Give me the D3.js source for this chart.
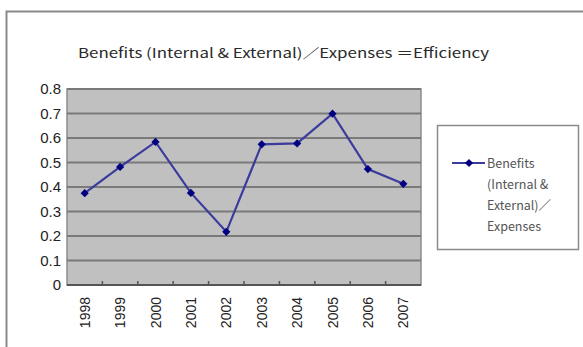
<!DOCTYPE html>
<html>
<head>
<meta charset="utf-8">
<script src="https://cdn.jsdelivr.net/npm/d3@7"></script>
<style>
  html, body { margin: 0; padding: 0; background: #ffffff; }
  svg { display: block; }
</style>
</head>
<body>
<svg id="chart" width="583" height="347"></svg>
<script>
// Efficiency ratio per year
const years = ["1998", "1999", "2000", "2001", "2002", "2003", "2004", "2005", "2006", "2007"];
const efficiency = [0.375, 0.482, 0.584, 0.376, 0.217, 0.574, 0.578, 0.699, 0.473, 0.413];
const yTicks = [0, 0.1, 0.2, 0.3, 0.4, 0.5, 0.6, 0.7, 0.8];
const titleText = "Benefits (Internal & External)／Expenses ＝Efficiency";
const legendLines = ["Benefits", "(Internal &", "External)／", "Expenses"];

const svg = d3.select("#chart");
const W = 583, H = 347;
const plot = { left: 67, right: 421, top: 89, bottom: 285 };
const fontUI = "'Noto Sans CJK JP', 'Liberation Sans', Arial, sans-serif";
const fontNum = "'Liberation Sans', Arial, sans-serif";

// Chart area frame (open on right and bottom)
svg.append("path")
  .attr("d", `M6.5,${H} L6.5,11.5 L${W},11.5`)
  .attr("fill", "none")
  .attr("stroke", "#8a8a8a")
  .attr("stroke-width", 2);

// Title
svg.append("text")
  .attr("x", 78)
  .attr("y", 58)
  .attr("font-family", fontUI)
  .attr("font-size", 13.5)
  .attr("fill", "#2a2a2a")
  .attr("textLength", 411)
  .attr("lengthAdjust", "spacingAndGlyphs")
  .text(titleText);

const x = d3.scaleBand().domain(years).range([plot.left, plot.right]).padding(0);
const y = d3.scaleLinear().domain([0, 0.8]).range([plot.bottom, plot.top]);

// Plot background
svg.append("rect")
  .attr("x", plot.left).attr("y", plot.top)
  .attr("width", plot.right - plot.left)
  .attr("height", plot.bottom - plot.top)
  .attr("fill", "#c0c0c0")
  .attr("stroke", "#8c8c8c")
  .attr("stroke-width", 1.5);

// Horizontal gridlines
svg.append("g")
  .selectAll("line")
  .data(yTicks.filter(t => t > 0))
  .join("line")
  .attr("x1", plot.left).attr("x2", plot.right)
  .attr("y1", d => y(d)).attr("y2", d => y(d))
  .attr("stroke", "#7a7a7a")
  .attr("stroke-width", 2);

// Y axis labels
const yAxis = d3.axisLeft(y).tickValues(yTicks).tickFormat(d => d === 0 ? "0" : d3.format(".1f")(d)).tickSize(0).tickPadding(6);
const gy = svg.append("g").attr("transform", `translate(${plot.left},0)`).call(yAxis);
gy.select(".domain").remove();
gy.selectAll("text")
  .attr("font-family", fontNum)
  .attr("font-size", 15)
  .attr("fill", "#222");

// X axis: baseline, inner ticks at category boundaries, rotated labels
svg.append("line")
  .attr("x1", plot.left).attr("x2", plot.right)
  .attr("y1", plot.bottom).attr("y2", plot.bottom)
  .attr("stroke", "#555").attr("stroke-width", 2);

svg.append("g")
  .selectAll("line")
  .data(years.slice(1))
  .join("line")
  .attr("x1", d => x(d)).attr("x2", d => x(d))
  .attr("y1", plot.bottom).attr("y2", plot.bottom - 4)
  .attr("stroke", "#555").attr("stroke-width", 1.5);

svg.append("g")
  .selectAll("text")
  .data(years)
  .join("text")
  .attr("transform", d => `translate(${x(d) + x.bandwidth() / 2 + 5},297) rotate(-90)`)
  .attr("text-anchor", "end")
  .attr("font-family", fontNum)
  .attr("font-size", 14)
  .attr("fill", "#222")
  .text(d => d);

// Series line
const cx = d => x(d) + x.bandwidth() / 2;
const line = d3.line().x((d, i) => cx(years[i])).y(d => y(d));
svg.append("path")
  .datum(efficiency)
  .attr("d", line)
  .attr("fill", "none")
  .attr("stroke", "#3b3b9e")
  .attr("stroke-width", 2.2);

// Diamond markers (square turned 45°)
const diamond = d3.symbol().type(d3.symbolSquare).size(34);
svg.append("g")
  .selectAll("path")
  .data(efficiency)
  .join("path")
  .attr("transform", (d, i) => `translate(${cx(years[i])},${y(d)}) rotate(45)`)
  .attr("d", diamond)
  .attr("fill", "#000080");

// Legend
const lg = svg.append("g");
lg.append("rect")
  .attr("x", 437.5).attr("y", 125.5)
  .attr("width", 141).attr("height", 124)
  .attr("fill", "#ffffff")
  .attr("stroke", "#8a8a8a")
  .attr("stroke-width", 1.5);
lg.append("line")
  .attr("x1", 452).attr("x2", 485)
  .attr("y1", 163).attr("y2", 163)
  .attr("stroke", "#3b3b9e").attr("stroke-width", 2.2);
lg.append("path")
  .attr("transform", "translate(469,163) rotate(45)")
  .attr("d", diamond)
  .attr("fill", "#000080");
lg.selectAll("text")
  .data(legendLines)
  .join("text")
  .attr("x", 487)
  .attr("y", (d, i) => 168 + i * 21)
  .attr("font-family", fontUI)
  .attr("font-size", 12.5)
  .attr("fill", "#555")
  .text(d => d);
</script>
</body>
</html>
